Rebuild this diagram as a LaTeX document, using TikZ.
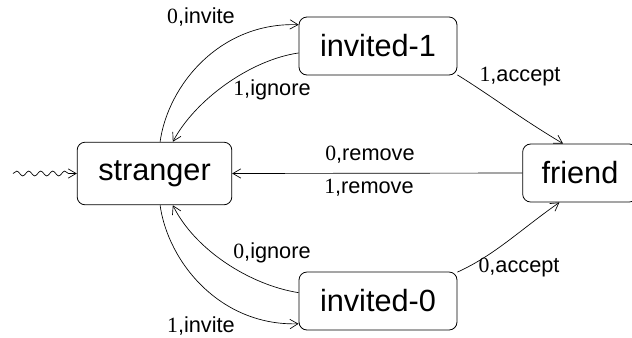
\documentclass[tikz,border=0pt]{standalone}
\usepackage{fontspec}
\setmainfont{Liberation Sans}
\newfontfamily\digitfont{Liberation Serif}
\usetikzlibrary{arrows.meta,decorations.pathmorphing}
\begin{document}
\begin{tikzpicture}[x=0.75pt,y=-0.75pt,
  state/.style={draw,rounded corners=6pt,inner sep=0pt,line width=0.6pt,font=\fontsize{23}{27}\selectfont},
  lbl/.style={font=\fontsize{16.3}{19}\selectfont,inner sep=0pt},
  edge/.style={line width=0.5pt,-{Straight Barb[length=6pt,width=7pt]}},
  every path/.style={line width=0.5pt}]
\useasboundingbox (0,0) rectangle (632,337);
\node[state,minimum width=116pt,minimum height=47pt] (s) at (154.5,173.5) {stranger};
\node[state,minimum width=118.5pt,minimum height=43.5pt] (i1) at (378,46) {invited-1};
\node[state,minimum width=118.5pt,minimum height=43.5pt] (i0) at (378,301) {invited-0};
\node[state,minimum width=86pt,minimum height=43.5pt] (f) at (580,173) {friend};
\coordinate (init) at (13,173.5);
\draw[edge,decorate,decoration={snake,amplitude=1.8pt,segment length=9pt,post length=6pt}] (init) -- (s.west);
\draw[edge] (s.80) .. controls (168,85) and (220,22) .. (i1.165);
\draw[edge] (i1.185) .. controls (250,60) and (195,100) .. (s.60);
\draw[edge] (s.-80) .. controls (168,262) and (220,326) .. (i0.196);
\draw[edge] (i0.174) .. controls (250,285) and (195,250) .. (s.-60);
\draw[edge] (f.west) -- (s.east);
\draw[edge] (i1.-20) .. controls (490,95) and (520,118) .. (f.120);
\draw[edge] (i0.20) .. controls (495,255) and (520,230) .. (f.235);
\node[lbl] (l1) at (201,17) {{\digitfont 0},invite};
\node[lbl] (l2) at (272,90) {{\digitfont 1},ignore};
\node[lbl] (l3) at (272,253) {{\digitfont 0},ignore};
\node[lbl] (l4) at (201,326) {{\digitfont 1},invite};
\node[lbl] (l5) at (370,155) {{\digitfont 0},remove};
\node[lbl] (l6) at (369,188) {{\digitfont 1},remove};
\node[lbl] (l7) at (520,77) {{\digitfont 1},accept};
\node[lbl] (l8) at (519,268) {{\digitfont 0},accept};
\end{tikzpicture}
\end{document}
